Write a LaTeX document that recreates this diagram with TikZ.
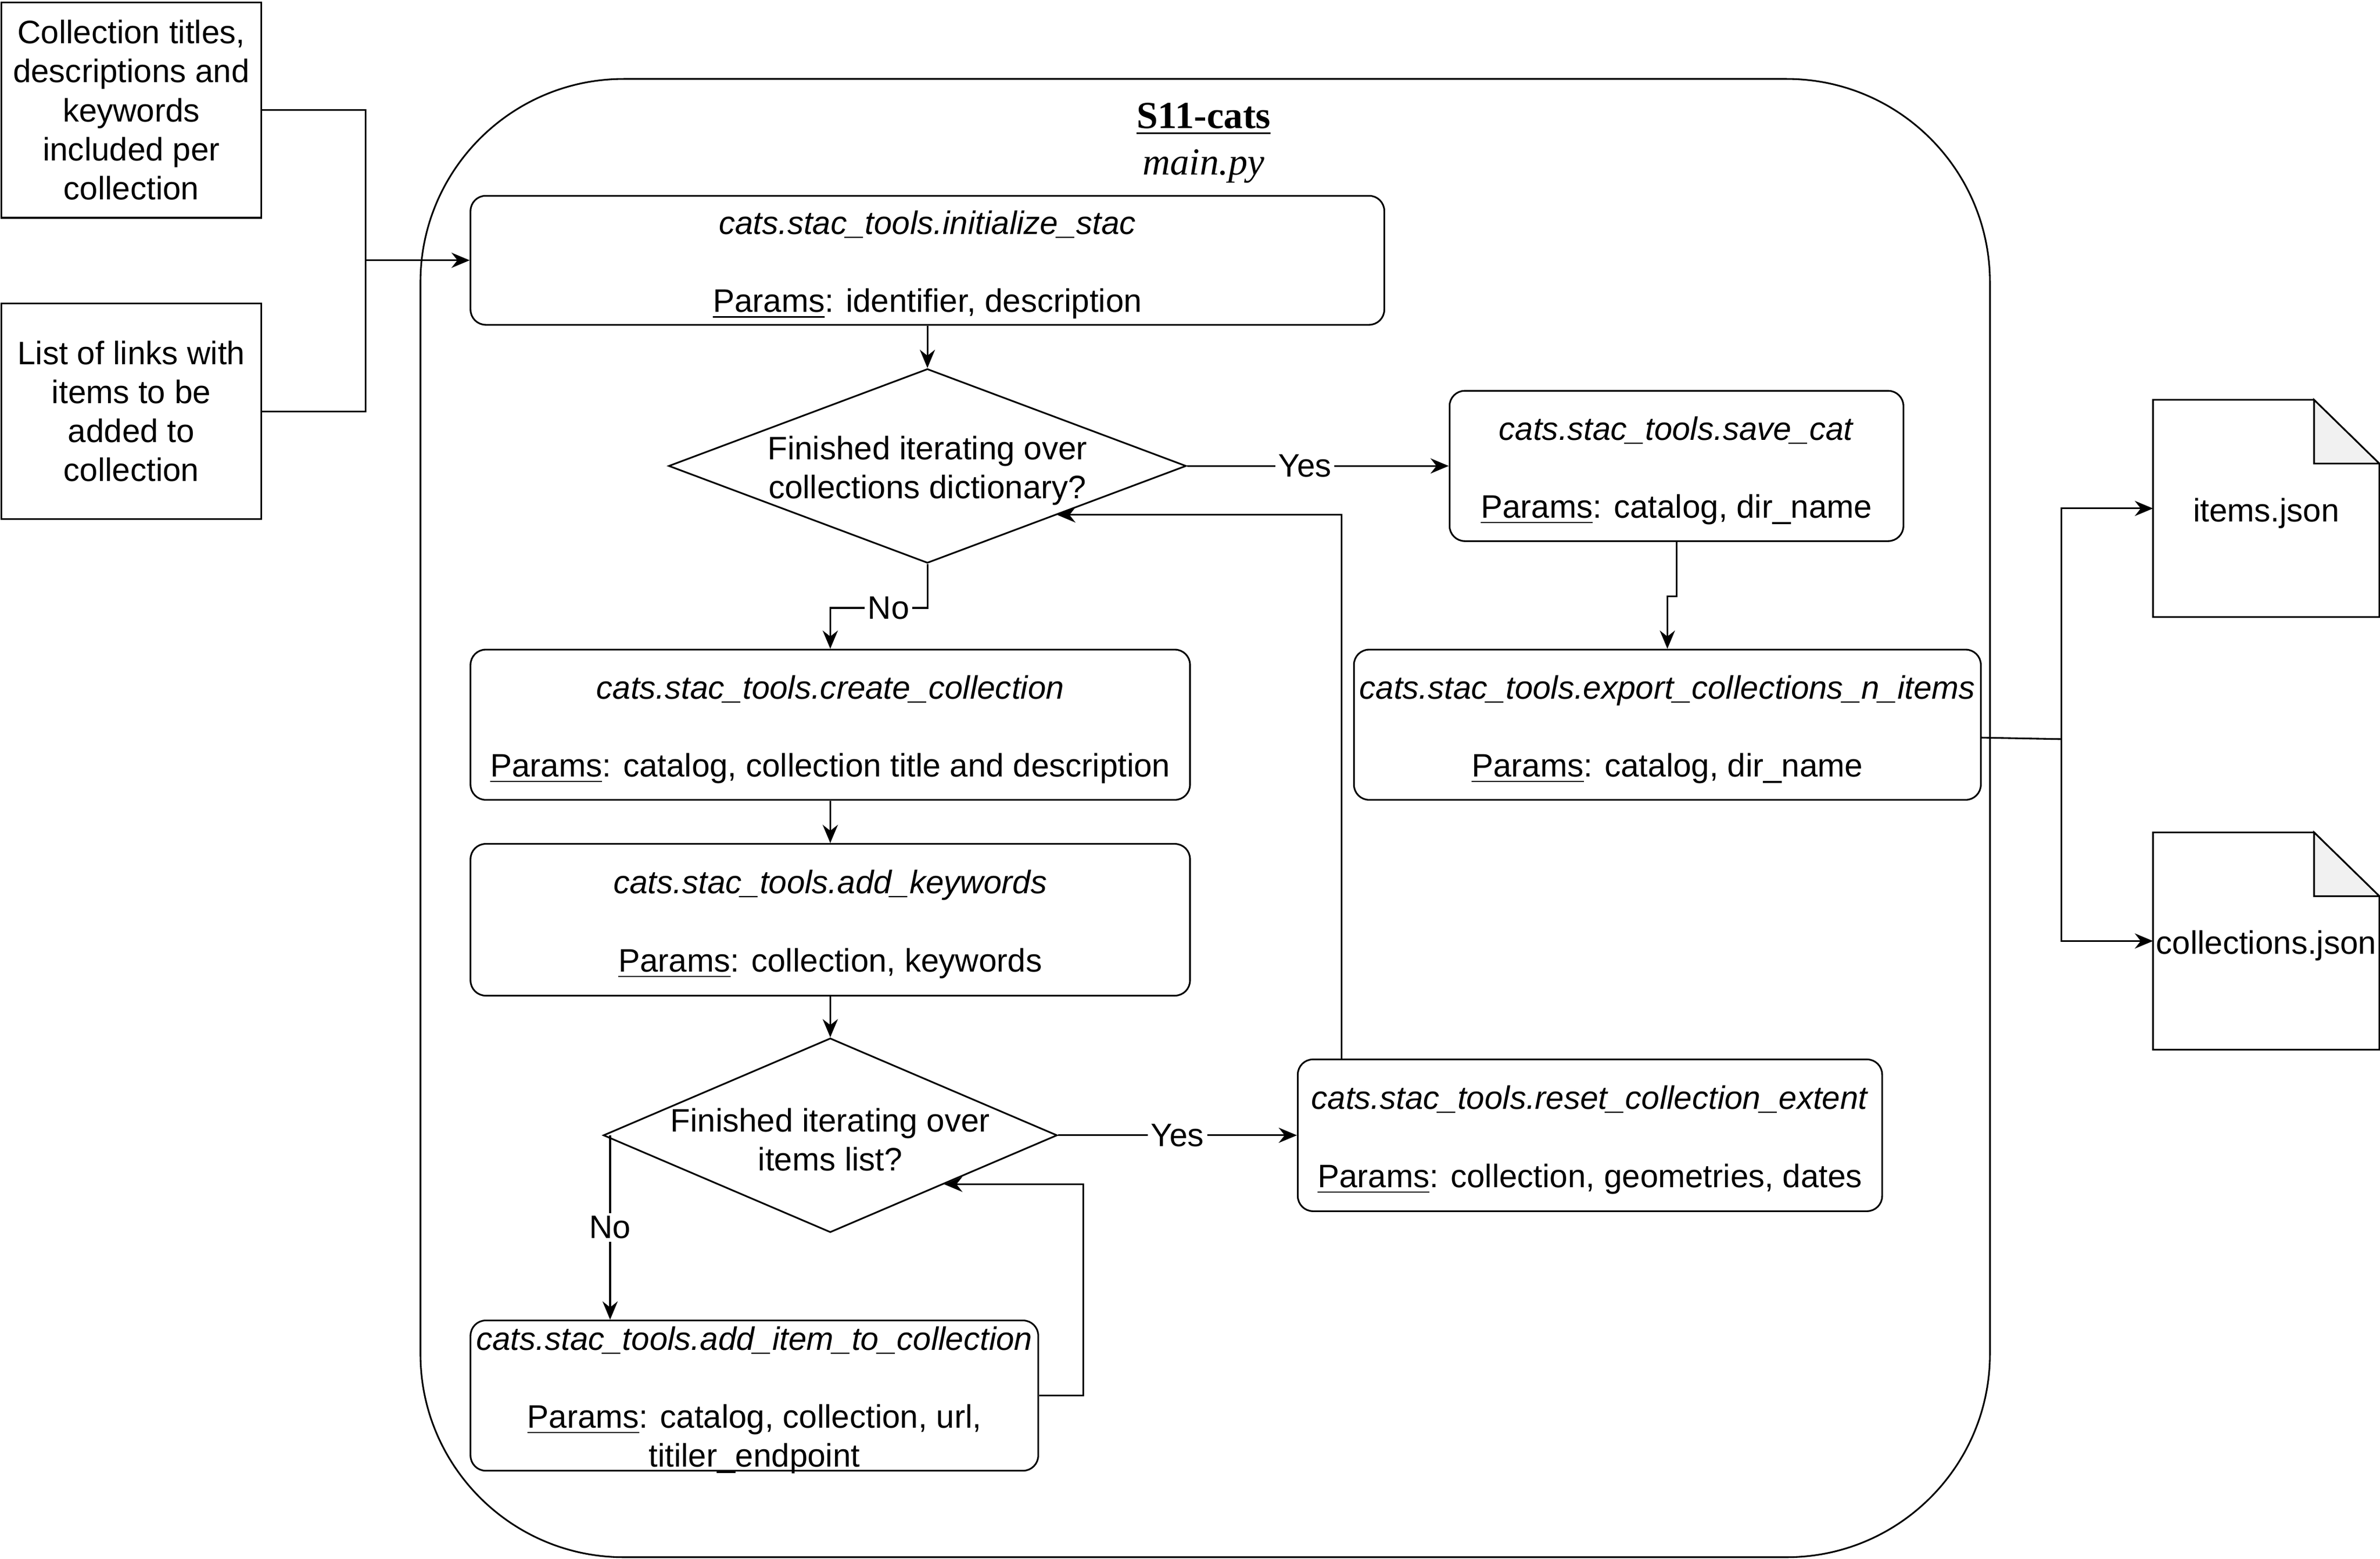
\documentclass[tikz,border=0pt]{standalone}
\usepackage{fontspec}
\setmainfont{Liberation Sans}
\newfontfamily\ttlfont{Liberation Serif}
\usetikzlibrary{shapes.geometric,arrows.meta}
\definecolor{foldgray}{HTML}{F1F1F1}
\newcommand{\topgap}{\rule{0pt}{10.8pt}}
\tikzset{
  box/.style={draw, rounded corners=5pt, align=center, inner sep=0pt},
  inbox/.style={draw, align=center, inner sep=0pt, minimum width=85.5pt, minimum height=71pt},
  decision/.style={draw, diamond, inner sep=0pt},
  file/.style={minimum width=74pt, minimum height=71pt, inner sep=0pt, execute at begin node=\topgap},
  arr/.style={-{Stealth[length=6pt,width=5pt]}},
  lbl/.style={fill=white, inner sep=1pt},
}
\newcommand{\stacfn}[1]{\topgap\textit{cats.stac\_tools.#1}}
\begin{document}
\begin{tikzpicture}[x=0.5pt, y=-0.5pt, line width=0.55pt,
  font=\fontsize{10.7}{12.85}\selectfont]
\useasboundingbox (0,0) rectangle (1568,1027);

% inputs
\node[inbox] (titles) at (86.5,72.5) {Collection titles,\\descriptions and\\keywords\\included per\\collection};
\node[inbox] (links) at (86.5,271) {List of links with\\items to be\\added to\\collection};

% main.py container
\node[draw, rounded corners=67pt, minimum width=517pt, minimum height=487pt] (cats) at (794,539) {};
\node[font=\ttlfont\fontsize{12.6}{15}\selectfont\bfseries] (ttl) at (793,78.5) {\underline{S11-cats}};
\node[font=\ttlfont\fontsize{12.6}{15}\selectfont\itshape] (ttlpy) at (793,109.5) {main.py};

\node[box, minimum width=301pt, minimum height=42.5pt] (init) at (611,171.5)
  {\stacfn{initialize\_stac}\\[\baselineskip]\underline{Params}: identifier, description};
\node[decision, minimum width=170.5pt, minimum height=64pt,
  label={[align=center, yshift=-1.5pt]center:{Finished iterating over\\collections dictionary?}}] (d1) at (611,307) {};
\node[box, minimum width=149.5pt, minimum height=49.5pt] (savecat) at (1104.5,307)
  {\stacfn{save\_cat}\\[\baselineskip]\underline{Params}: catalog, dir\_name};
\node[box, minimum width=206.5pt, minimum height=49.5pt] (export) at (1098.5,477.5)
  {\stacfn{export\_collections\_n\_items}\\[\baselineskip]\underline{Params}: catalog, dir\_name};
\node[box, minimum width=237pt, minimum height=49.5pt] (create) at (547,477.5)
  {\stacfn{create\_collection}\\[\baselineskip]\underline{Params}: catalog, collection title and description};
\node[box, minimum width=237pt, minimum height=50pt] (keywords) at (547,606)
  {\stacfn{add\_keywords}\\[\baselineskip]\underline{Params}: collection, keywords};
\node[decision, minimum width=149.5pt, minimum height=64pt,
  label={[align=center, yshift=-1.5pt]center:{Finished iterating over\\items list?}}] (d2) at (547,748) {};
\node[box, minimum width=192.5pt, minimum height=50pt] (reset) at (1047.5,748)
  {\stacfn{reset\_collection\_extent}\\[\baselineskip]\underline{Params}: collection, geometries, dates};
\node[box, inner ysep=-1.2pt, minimum width=187pt, minimum height=49.5pt] (additem) at (497,919.5)
  {\stacfn{add\_item\_to\_collection}\\[\baselineskip]\underline{Params}: catalog, collection, url,\\titiler\_endpoint};

% outputs
\node[file] (items) at (1493,335) {items.json};
\node[file] (colls) at (1493,620) {collections.json};
\foreach \f in {items,colls}{
  \draw (\f.north west) -- ([xshift=-21.5pt]\f.north east) -- ([yshift=-21pt]\f.north east)
        -- (\f.south east) -- (\f.south west) -- cycle;
  \filldraw[fill=foldgray] ([xshift=-21.5pt]\f.north east) -- ([xshift=-21.5pt,yshift=-21pt]\f.north east)
        -- ([yshift=-21pt]\f.north east) -- cycle;
}

% connectors
\coordinate (merge) at (241,171.5);
\draw (titles.east) -| (merge);
\draw (links.east) -| (merge);
\draw[arr] (merge) -- (init.west);
\draw[arr] (init.south) -- (d1.north);
\draw[arr] (d1.east) -- node[lbl, pos=0.45]{Yes} (savecat.west);
\draw[arr] (savecat.south) -- ++(0,36) -| (export.north);
\draw[arr] (d1.south) -- ++(0,29) -| node[lbl, pos=0.2]{No} (create.north);
\draw[arr] (create.south) -- (keywords.north);
\draw[arr] (keywords.south) -- (d2.north);
\draw[arr] (d2.east) -- node[lbl]{Yes} (reset.west);
\draw[arr] ([xshift=-81.75pt]reset.north) |- (d1.south east);
\coordinate (nostart) at ([xshift=2.5pt]d2.west);
\draw[arr] (nostart) -- node[lbl]{No} (nostart |- additem.north);
\draw[arr] (additem.east) -- ++(29,0) |- (d2.south east);
\coordinate (split) at (1358,487);
\draw ([yshift=-4.25pt]export.east) -- (split);
\draw[arr] (split) |- (items.west);
\draw[arr] (split) |- (colls.west);
\end{tikzpicture}
\end{document}
